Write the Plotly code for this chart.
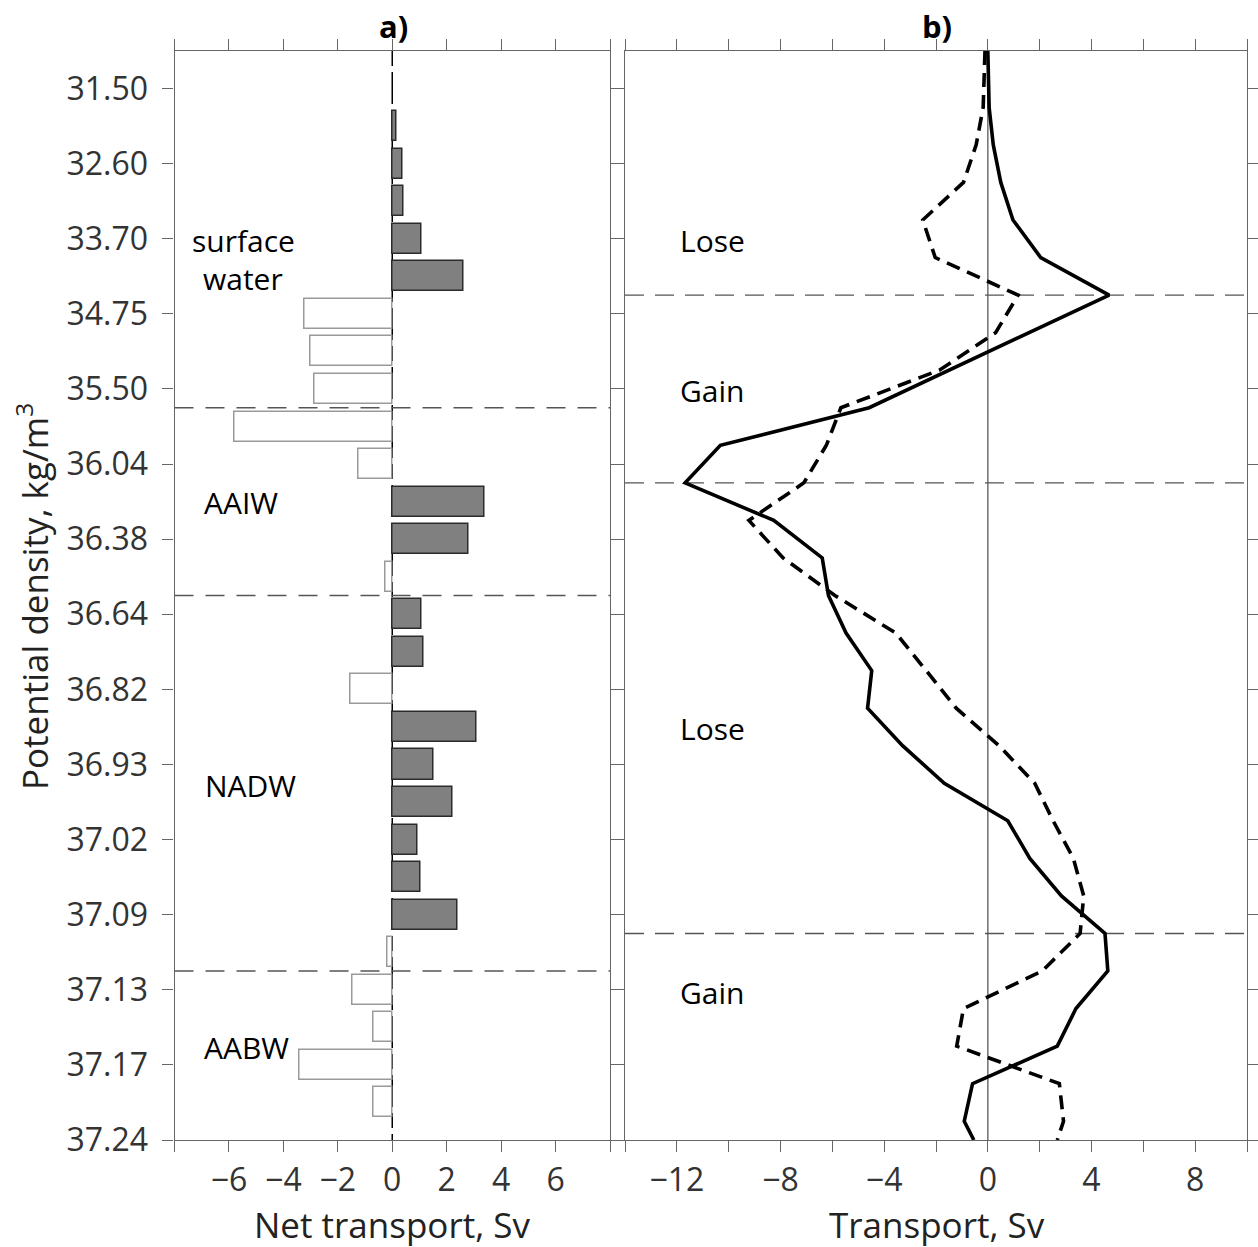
import plotly.graph_objects as go

W, H = 1258, 1247

# ---------------- data ----------------
density_labels = ["31.50", "32.60", "33.70", "34.75", "35.50", "36.04", "36.38",
                  "36.64", "36.82", "36.93", "37.02", "37.09", "37.13", "37.17", "37.24"]
density_pos = [0, 1, 2, 3, 4, 5, 6, 7, 8, 9, 10, 11, 12, 13, 14]

# layer mid positions (index units on the density axis) for the net-transport bars
layer_pos = [0.5, 1.0, 1.5, 2.0, 2.5, 3.0, 3.5, 4.0, 4.5, 5.0, 5.5, 6.0, 6.5, 7.0,
             7.5, 8.0, 8.5, 9.0, 9.5, 10.0, 10.5, 11.0, 11.5, 12.0, 12.5, 13.0, 13.5]
net_transport = [0.16, 0.37, 0.42, 1.06, 2.62, -3.24, -3.00, -2.84, -5.79, -1.25,
                 3.40, 2.81, -0.24, 1.08, 1.13, -1.52, 3.11, 1.53, 2.23, 0.93,
                 1.05, 2.39, -0.17, -1.46, -0.70, -3.41, -0.70]

# interface positions for the transport profiles
interface_pos = [-0.5, 0.25, 0.75, 1.25, 1.75, 2.25, 2.75, 3.25, 3.75, 4.25, 4.75,
                 5.25, 5.75, 6.25, 6.75, 7.25, 7.75, 8.25, 8.75, 9.25, 9.75, 10.25,
                 10.75, 11.25, 11.75, 12.25, 12.75, 13.25, 13.75, 14.0]
transport_solid = [0.00, 0.05, 0.21, 0.50, 0.97, 2.04, 4.68, 1.58, -1.55, -4.58,
                   -10.32, -11.68, -8.26, -6.39, -6.15, -5.47, -4.48, -4.64, -3.29,
                   -1.68, 0.77, 1.62, 2.84, 4.52, 4.63, 3.40, 2.68, -0.59, -0.91, -0.54]
transport_dashed = [-0.11, -0.18, -0.45, -0.94, -2.51, -2.03, 1.17, 0.30, -1.87, -5.67,
                    -6.23, -7.10, -9.22, -7.90, -5.90, -3.55, -2.38, -1.22, 0.43, 1.81,
                    2.52, 3.30, 3.70, 3.56, 2.10, -0.94, -1.20, 2.76, 2.92, 2.68]

# water-mass boundaries
bounds_a = [4.25, 6.75, 11.75]
bounds_b = [2.75, 5.25, 11.25]

xa_ticks = [-6, -4, -2, 0, 2, 4, 6]
xa_text = ["\u22126", "\u22124", "\u22122", "0", "2", "4", "6"]
xa_minor = [-8, 8]
xb_ticks = [-12, -8, -4, 0, 4, 8]
xb_text = ["\u221212", "\u22128", "\u22124", "0", "4", "8"]
xb_minor = [-14, -10, -6, -2, 2, 6, 10]

labels_a = [("surface", 243, 240), ("water", 243, 278), ("AAIW", 241, 502),
            ("NADW", 250, 785), ("AABW", 246, 1047)]
labels_b = [("Lose", 712, 240), ("Gain", 712, 390), ("Lose", 712, 728), ("Gain", 712, 992)]

# ---------------- figure ----------------
FONT = "Open Sans"
AX = "#666666"


def px(x):
    return x / W


def py(y):
    return 1 - y / H


fill = ["#808080" if v > 0 else "#ffffff" for v in net_transport]
edge = ["#2b2b2b" if v > 0 else "#9a9a9a" for v in net_transport]

fig = go.Figure()
fig.add_trace(go.Bar(
    x=net_transport, y=layer_pos, orientation="h", width=0.4,
    marker=dict(color=fill, line=dict(color=edge, width=1.5)),
    xaxis="x", yaxis="y", showlegend=False))
fig.add_trace(go.Scatter(
    x=transport_solid, y=interface_pos, mode="lines",
    line=dict(color="black", width=3.6), xaxis="x2", yaxis="y2", showlegend=False))
fig.add_trace(go.Scatter(
    x=transport_dashed, y=interface_pos, mode="lines",
    line=dict(color="black", width=3.6, dash="14px,8px"),
    xaxis="x2", yaxis="y2", showlegend=False))

shapes = []
# zero line panel a (dashed, under bars)
shapes.append(dict(type="line", xref="x", yref="y domain", x0=0, x1=0, y0=1, y1=0,
                   line=dict(color="black", width=1.5, dash="15px,6px,32px,6px"),
                   layer="below"))
# zero line panel b
shapes.append(dict(type="line", xref="x2", yref="y2 domain", x0=0, x1=0, y0=0, y1=1,
                   line=dict(color="#707070", width=1.5), layer="below"))
for b in bounds_a:
    shapes.append(dict(type="line", xref="x domain", yref="y", x0=0, x1=1, y0=b, y1=b,
                       line=dict(color="#555555", width=1.4, dash="19px,12px"),
                       layer="below"))
for b in bounds_b:
    shapes.append(dict(type="line", xref="x2 domain", yref="y2", x0=0, x1=1, y0=b, y1=b,
                       line=dict(color="#555555", width=1.4, dash="19px,11px"),
                       layer="below"))

ann = []
for t, x, y in labels_a + labels_b:
    ann.append(dict(text=t, x=px(x), y=py(y), xref="paper", yref="paper",
                    showarrow=False, xanchor="center", yanchor="middle",
                    font=dict(family=FONT, size=30, color="black")))
ann.append(dict(text="<b>a)</b>", x=px(393), y=py(26), xref="paper", yref="paper",
                showarrow=False, xanchor="center", yanchor="middle",
                font=dict(family=FONT, size=31, color="black")))
ann.append(dict(text="<b>b)</b>", x=px(937), y=py(26), xref="paper", yref="paper",
                showarrow=False, xanchor="center", yanchor="middle",
                font=dict(family=FONT, size=31, color="black")))
ann.append(dict(text="Net transport, Sv", x=px(392), y=py(1224), xref="paper", yref="paper",
                showarrow=False, xanchor="center", yanchor="middle",
                font=dict(family=FONT, size=35, color="#222222")))
ann.append(dict(text="Transport, Sv", x=px(937), y=py(1224), xref="paper", yref="paper",
                showarrow=False, xanchor="center", yanchor="middle",
                font=dict(family=FONT, size=35, color="#222222")))
ann.append(dict(text="Potential density, kg/m<sup>3</sup>", x=px(33), y=py(597),
                xref="paper", yref="paper", textangle=-90,
                showarrow=False, xanchor="center", yanchor="middle",
                font=dict(family=FONT, size=35, color="#222222")))

axis_common = dict(showline=True, linecolor=AX, linewidth=1.2, mirror="allticks",
                   ticks="outside", ticklen=11, tickwidth=1.2, tickcolor=AX,
                   showgrid=False, zeroline=False, automargin=False,
                   tickfont=dict(family=FONT, size=32, color="#333333"))
minor_common = dict(ticks="outside", ticklen=11, tickwidth=1.2, tickcolor=AX, showgrid=False)

yd = [py(1140), py(51)]

fig.update_layout(
    width=W, height=H, autosize=False, margin=dict(l=0, r=0, t=0, b=0, pad=0),
    paper_bgcolor="white", plot_bgcolor="white",
    bargap=0,
    xaxis=dict(domain=[px(174.5), px(610)], range=[-8, 8], tickvals=xa_ticks,
               ticktext=xa_text, anchor="y", ticklabelstandoff=0,
               minor=dict(tickvals=xa_minor, **minor_common), **axis_common),
    xaxis2=dict(domain=[px(625), px(1247)], range=[-14, 10], tickvals=xb_ticks,
                ticktext=xb_text, anchor="y2", ticklabelstandoff=0,
                minor=dict(tickvals=xb_minor, **minor_common), **axis_common),
    yaxis=dict(domain=yd, range=[14, -0.5], tickvals=density_pos, ticktext=density_labels,
               anchor="x", ticklabelstandoff=8, **axis_common),
    yaxis2=dict(domain=yd, range=[14, -0.5], tickvals=density_pos, showticklabels=False,
                anchor="x2", **axis_common),
    shapes=shapes, annotations=ann,
)

fig.write_html("out.html", config={"responsive": False})
